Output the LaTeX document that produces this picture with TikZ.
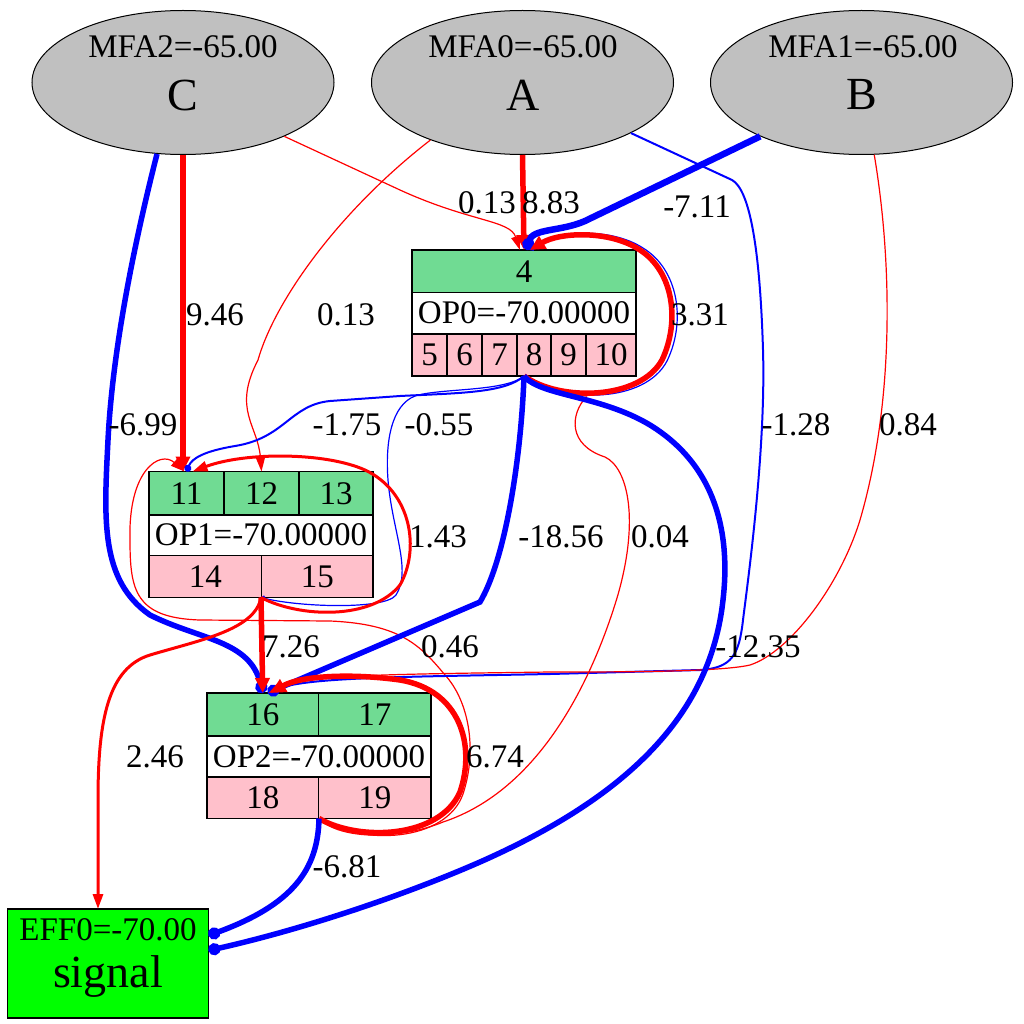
\documentclass[tikz,border=0pt]{standalone}
\usepackage{fontspec}
\setmainfont{Liberation Serif}
\usetikzlibrary{arrows.meta,shapes.geometric,calc}

\definecolor{mfagrey}{RGB}{192,192,192}
\definecolor{ingreen}{RGB}{112,219,147}
\definecolor{outpink}{RGB}{255,192,203}
\definecolor{effgreen}{RGB}{0,255,0}

\tikzset{
  lbl/.style={font=\fontsize{33}{36}\selectfont, inner sep=0pt},
  big/.style={font=\fontsize{46}{50}\selectfont, inner sep=0pt},
  mfa/.style={ellipse, draw=black, line width=1pt, fill=mfagrey,
    minimum width=302pt, minimum height=144pt, inner sep=0pt},
  recbox/.style={draw=black, line width=1.2pt, rectangle, inner sep=0pt, outer sep=0pt},
  cell/.style={draw=black, line width=1.2pt, rectangle, anchor=north west,
    inner sep=0pt, outer sep=0pt, font=\fontsize{33}{36}\selectfont},
  incell/.style={cell, fill=ingreen},
  outcell/.style={cell, fill=outpink},
  midcell/.style={cell, fill=white},
  rthick/.style={draw=red, line width=5.5pt, -{Triangle[length=15pt,width=14pt]}},
  rmid/.style={draw=red, line width=3pt, -{Triangle[length=15pt,width=10pt]}},
  rthin/.style={draw=red, line width=1.2pt, -{Triangle[length=14pt,width=9pt]}},
  rthinplain/.style={draw=red, line width=1.2pt},
  bheavy/.style={draw=blue, line width=6.5pt, -{Circle[length=12pt,width=12pt]}},
  bthick/.style={draw=blue, line width=5.5pt, -{Circle[length=12pt,width=12pt]}},
  bmid/.style={draw=blue, line width=2pt, -{Circle[length=7pt,width=7pt]}},
  bthin/.style={draw=blue, line width=1.2pt, -{Circle[length=5pt,width=5pt]}},
}

\begin{document}
\begin{tikzpicture}[x=1pt,y=-1pt]
\useasboundingbox (0,0) rectangle (1024,1024);

% ---- source ellipses ----
\node[mfa] (C) at (183,82.5) {};
\node[lbl] (Cv) at (183,47) {MFA2=-65.00};
\node[big] (Cn) at (183,95) {C};

\node[mfa] (A) at (522.5,82.5) {};
\node[lbl] (Av) at (523,47) {MFA0=-65.00};
\node[big] (An) at (523,95) {A};

\node[mfa] (B) at (861.5,82.5) {};
\node[lbl] (Bv) at (863,47) {MFA1=-65.00};
\node[big] (Bn) at (862,95) {B};

% ---- OP0 record ----
\node[recbox, minimum width=224pt, minimum height=126pt] (op0) at (524,313) {};
\node[incell, minimum width=224pt, minimum height=42.5pt] (p4) at (412,250) {4};
\node[midcell, minimum width=224pt, minimum height=41.5pt] (op0v) at (412,292.5) {OP0=-70.00000};
\node[outcell, minimum width=35pt, minimum height=42pt] (p5) at (412,334) {5};
\node[outcell, minimum width=35pt, minimum height=42pt] (p6) at (447,334) {6};
\node[outcell, minimum width=35pt, minimum height=42pt] (p7) at (482,334) {7};
\node[outcell, minimum width=34pt, minimum height=42pt] (p8) at (517,334) {8};
\node[outcell, minimum width=35pt, minimum height=42pt] (p9) at (551,334) {9};
\node[outcell, minimum width=50pt, minimum height=42pt] (p10) at (586,334) {10};

% ---- OP1 record ----
\node[recbox, minimum width=224pt, minimum height=126pt] (op1) at (261,534.5) {};
\node[incell, minimum width=75pt, minimum height=43.5pt] (p11) at (149,471.5) {11};
\node[incell, minimum width=75pt, minimum height=43.5pt] (p12) at (224,471.5) {12};
\node[incell, minimum width=74pt, minimum height=43.5pt] (p13) at (299,471.5) {13};
\node[midcell, minimum width=224pt, minimum height=40.5pt] (op1v) at (149,515) {OP1=-70.00000};
\node[outcell, minimum width=112.5pt, minimum height=42pt] (p14) at (149,555.5) {14};
\node[outcell, minimum width=111.5pt, minimum height=42pt] (p15) at (261.5,555.5) {15};

% ---- OP2 record ----
\node[recbox, minimum width=224pt, minimum height=125.5pt] (op2) at (319,755.75) {};
\node[incell, minimum width=111.5pt, minimum height=43pt] (p16) at (207,693) {16};
\node[incell, minimum width=112.5pt, minimum height=43pt] (p17) at (318.5,693) {17};
\node[midcell, minimum width=224pt, minimum height=41pt] (op2v) at (207,736) {OP2=-70.00000};
\node[outcell, minimum width=111.5pt, minimum height=41.5pt] (p18) at (207,777) {18};
\node[outcell, minimum width=112.5pt, minimum height=41.5pt] (p19) at (318.5,777) {19};

% ---- effector ----
\node[recbox, fill=effgreen, minimum width=201pt, minimum height=109pt] (eff) at (108,963.5) {};
\node[lbl] (effv) at (108,930) {EFF0=-70.00};
\node[big, anchor=base] (effn) at (108,987) {signal};

% ---- connectors into OP0 ----
\draw[rthick] (A.south) -- (p4.north);
\draw[rthin] (C.-28) -- (400,190) .. controls (470,222) and (510,220) .. ([xshift=-4pt]p4.north);
\draw[bheavy] (B.-152) -- (585,221) .. controls (560,232) and (532,228) .. ([xshift=3pt]p4.north);
\draw[bthin] (op0.south) .. controls (565,404) and (645,403) .. (667,361)
  .. controls (686,322) and (679,270) .. (643,248)
  .. controls (612,228) and (560,229) .. ([xshift=6pt]p4.north);
\draw[rthick] (op0.south) .. controls (560,402) and (640,400) .. (662,360)
  .. controls (680,322) and (674,272) .. (640,250)
  .. controls (610,230) and (560,232) .. ([xshift=6pt]p4.north);

% ---- connectors into OP1 ----
\draw[rthin] (A.-148) .. controls (340,210) and (275,300) .. (258,360)
  .. controls (232,410) and (258,425) .. (p12.north);
\draw[rthick] (C.south) -- (C.south |- p11.north);
\draw[bmid] (op0.south) .. controls (505,393) and (460,393) .. (400,396) -- (330,401)
  .. controls (290,405) and (285,438) .. (235,446)
  .. controls (205,451) and (192,458) .. (p11.north);
\draw[bthin] (op0.south) .. controls (505,392) and (440,388) .. (415,396)
  .. controls (392,405) and (385,440) .. (388,480)
  .. controls (392,530) and (412,570) .. (396,595)
  .. controls (385,610) and (300,607) .. (op1.south);
\draw[rmid] (op1.south) .. controls (300,618) and (372,620) .. (400,585)
  .. controls (420,550) and (412,492) .. (365,470)
  .. controls (325,452) and (245,452) .. ([xshift=6pt]p11.north);
\draw[rthin] (op2.south) .. controls (362,846) and (446,842) .. (463,794)
  .. controls (478,748) and (468,700) .. (445,675)
  .. controls (420,645) and (400,624) .. (330,621) -- (200,620)
  .. controls (135,618) and (130,590) .. (130,540)
  .. controls (128,470) and (160,450) .. ([xshift=-2pt]p11.north);

% ---- connectors into OP2 ----
\draw[bthick] (C.-110) .. controls (130,260) and (112,360) .. (108,440)
  .. controls (104,520) and (100,580) .. (150,615)
  .. controls (200,640) and (250,640) .. (p16.north);
\draw[bthick] (op0.south) .. controls (521,460) and (505,560) .. (480,602) -- ([xshift=5pt]p16.north);
\draw[bmid] (A.-25) -- (732,180) .. controls (750,190) and (760,250) .. (763,350)
  .. controls (766,450) and (748,580) .. (743,620)
  .. controls (739,655) and (732,668) .. (700,670) -- (550,674)
  .. controls (400,677) and (300,677) .. ([xshift=6pt]p16.north);
\draw[rthin] (B.-80) .. controls (892,260) and (895,400) .. (860,520)
  .. controls (840,585) and (790,652) .. (750,665)
  .. controls (720,672) and (620,672) .. (550,672)
  .. controls (400,674) and (300,675) .. ([xshift=6pt]p16.north);
\draw[rthick] (op1.south) -- (p16.north);
\draw[rthick] (op2.south) .. controls (360,842) and (440,838) .. (460,792)
  .. controls (476,745) and (460,690) .. (400,680)
  .. controls (350,673) and (300,676) .. ([xshift=8pt]p16.north);
\draw[rthinplain] (op0.south) .. controls (548,394) and (572,400) .. (586,397)
  .. controls (570,415) and (568,445) .. (605,457)
  .. controls (628,468) and (640,520) .. (617,598)
  .. controls (592,680) and (540,790) .. (443,822)
  .. controls (400,840) and (340,840) .. (op2.south);

% ---- connectors into the effector ----
\draw[rmid] (op1.south) .. controls (255,630) and (200,640) .. (150,655)
  .. controls (108,668) and (98,720) .. (98,800) -- ([xshift=-10pt]eff.north);
\draw[bthick] (op2.south) .. controls (318,870) and (292,905) .. ([yshift=28pt]eff.east);
\draw[bthick] (op0.south) .. controls (540,396) and (600,395) .. (650,425)
  .. controls (720,468) and (730,540) .. (723,600)
  .. controls (710,720) and (620,800) .. (480,862)
  .. controls (400,897) and (300,930) .. ([yshift=13pt]eff.east);

% ---- weights ----
\node[lbl] (w1) at (487,203) {0.13};
\node[lbl] (w2) at (551,203) {8.83};
\node[lbl] (w3) at (697,207) {-7.11};
\node[lbl] (w4) at (215,315) {9.46};
\node[lbl] (w5) at (346,315) {0.13};
\node[lbl] (w6) at (700,315) {3.31};
\node[lbl] (w7) at (143,425) {-6.99};
\node[lbl] (w8) at (347,425) {-1.75};
\node[lbl] (w9) at (439,425) {-0.55};
\node[lbl] (w10) at (796,425) {-1.28};
\node[lbl] (w11) at (908,425) {0.84};
\node[lbl] (w12) at (438,537) {1.43};
\node[lbl] (w13) at (561,537) {-18.56};
\node[lbl] (w14) at (660,537) {0.04};
\node[lbl] (w15) at (291,647) {7.26};
\node[lbl] (w16) at (450,647) {0.46};
\node[lbl] (w17) at (758,647) {-12.35};
\node[lbl] (w18) at (155,757) {2.46};
\node[lbl] (w19) at (495,757) {6.74};
\node[lbl] (w20) at (347,867) {-6.81};
\end{tikzpicture}
\end{document}
